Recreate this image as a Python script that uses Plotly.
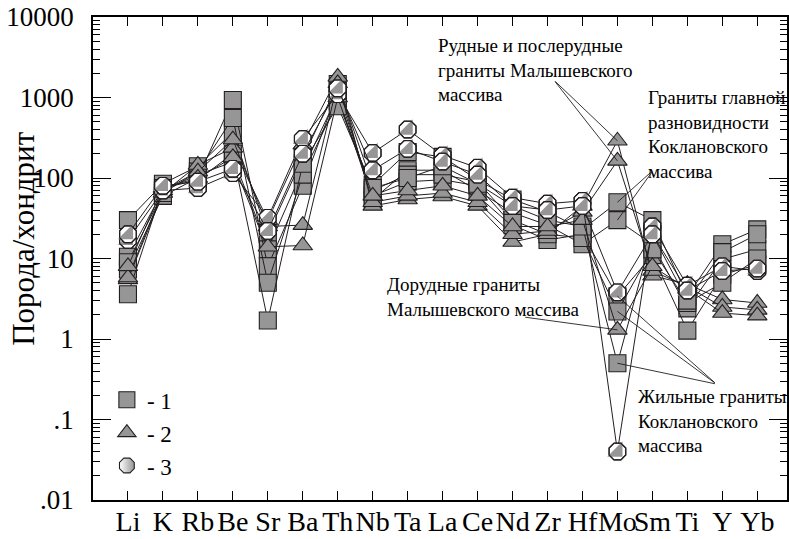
import plotly.graph_objects as go
import math

# ---------------- data ----------------
elements = ["Li", "K", "Rb", "Be", "Sr", "Ba", "Th", "Nb", "Ta", "La",
            "Ce", "Nd", "Zr", "Hf", "Mo", "Sm", "Ti", "Y", "Yb"]

# group 1 (squares)
sq_1 = [30, 85, 140, 370, 20, 178, 1470, 82, 210, 183, 95, 54, 38, 23, 50, 30, 3.4, 15, 23]
sq_2 = [10.5, 70, 110, 158, 13, 127, 1070, 54, 125, 125, 70, 37, 26, 15, 30, 15, 2.4, 9.8, 13]
sq_3 = [7.3, 60, 100, 930, 8, 80, 1200, 60, 90, 95, 80, 26, 17, 20, 3.4, 11, 1.27, 6.3, 8.4]
sq_4 = [9, 65, 120, 557, 5, 110, 900, 70, 110, 110, 90, 30, 20, 18, 2.2, 13, 2.8, 5, 10]
sq_5 = [3.6, 75, 95, 200, 1.7, 150, 780, 75, 100, 140, 85, 45, 30, 25, 0.5, 20, 3.0, 12, 20]

# group 2 (triangles)
tri_1 = [5.5, 65, 145, 237, 30, 260, 1800, 45, 54, 59, 45, 16, 20, 45, 290, 6.1, 4.8, 3.1, 2.8]
tri_2 = [5.8, 70, 120, 300, 25, 26, 1500, 50, 60, 65, 50, 20, 22, 38, 163, 7, 4.5, 2.5, 2.3]
tri_3 = [8, 75, 100, 180, 14, 14.5, 1000, 60, 70, 80, 60, 25, 25, 30, 1.3, 8, 4.2, 2.1, 1.95]

# group 3 (half-filled octagons)
oct_1 = [17, 70, 75, 115, 32, 306, 1100, 205, 400, 190, 134, 57, 48, 52, 0.04, 25, 4.6, 8, 7]
oct_2 = [20, 80, 90, 130, 22, 200, 1300, 125, 230, 160, 110, 45, 40, 45, 3.8, 20, 4.0, 7, 7.5]

y_tickvals = [0.01, 0.1, 1, 10, 100, 1000, 10000]
y_ticktext = [".01", ".1", "1", "10", "100", "1000", "10000"]
legend_labels = ["- 1", "- 2", "- 3"]

# ---------------- styling ----------------
FONT = "Liberation Serif"
GRAY = "#969696"
INK = "#231f20"
xs = list(range(len(elements)))
mo = elements.index("Mo")

fig = go.Figure()

def add_series(vals, symbol, size):
    fig.add_trace(go.Scatter(
        x=xs, y=vals, mode="lines+markers", showlegend=False,
        line=dict(color=INK, width=1),
        marker=dict(symbol=symbol, size=size, color=GRAY,
                    line=dict(color=INK, width=1.1)),
        hoverinfo="skip"))

def add_half_octagon(vals):
    fig.add_trace(go.Scatter(
        x=xs, y=vals, mode="lines+markers", showlegend=False,
        line=dict(color=INK, width=1),
        marker=dict(symbol="octagon", size=18, color="white",
                    line=dict(color=INK, width=1.1)),
        hoverinfo="skip"))
    fig.add_trace(go.Scatter(
        x=xs, y=vals, mode="markers", showlegend=False,
        marker=dict(symbol="triangle-se", size=17, color=GRAY,
                    line=dict(width=0)),
        hoverinfo="skip"))
    fig.add_trace(go.Scatter(
        x=xs, y=vals, mode="markers", showlegend=False,
        marker=dict(symbol="octagon-open", size=18, color=INK,
                    line=dict(color=INK, width=1.2)),
        hoverinfo="skip"))

for s in (sq_1, sq_2, sq_3, sq_4, sq_5):
    add_series(s, "square", 17)
for s in (tri_1, tri_2, tri_3):
    add_series(s, "triangle-up", 17)
for s in (oct_1, oct_2):
    add_half_octagon(s)

# legend-only entries
fig.add_trace(go.Scatter(x=[None], y=[None], mode="markers", name=legend_labels[0],
                         marker=dict(symbol="square", size=16, color=GRAY,
                                     line=dict(color=INK, width=1.1))))
fig.add_trace(go.Scatter(x=[None], y=[None], mode="markers", name=legend_labels[1],
                         marker=dict(symbol="triangle-up", size=16, color=GRAY,
                                     line=dict(color=INK, width=1.1))))
fig.add_trace(go.Scatter(x=[None], y=[None], mode="markers", name=legend_labels[2],
                         marker=dict(symbol="octagon", size=16, color="white",
                                     gradient=dict(type="horizontal", color=GRAY),
                                     line=dict(color=INK, width=1.1))))

# ---------------- annotations ----------------
L = math.log10
ann = []
def txt(x, y, text):
    ann.append(dict(x=x, y=y, xref="x", yref="y", text=text, showarrow=False,
                    xanchor="left", yanchor="top", align="left",
                    font=dict(family=FONT, size=19, color="black")))
def leader(series, ax, ay):
    ann.append(dict(x=mo, y=L(series[mo]), xref="x", yref="y",
                    ax=ax, ay=ay, axref="x", ayref="y", text="",
                    showarrow=True, arrowhead=0, arrowwidth=0.9,
                    arrowcolor=INK, standoff=0, startstandoff=0))

txt(8.81, 3.80, "Рудные и послерудные<br>граниты Малышевского<br>массива")
leader(tri_1, 12.18, 3.217)
leader(tri_2, 12.18, 3.217)

txt(14.83, 3.15, "Граниты главной<br>разновидности<br>Коклановского<br>массива")
leader(sq_1, 15.03, 2.10)
leader(sq_2, 15.03, 2.10)

txt(7.36, 0.83, "Дорудные граниты<br>Малышевского массива")
leader(tri_3, 11.32, 0.273)

txt(14.52, -0.56, "Жильные граниты<br>Коклановского<br>массива")
for s in (sq_3, sq_4, sq_5):
    leader(s, 16.83, -0.56)

ann.append(dict(x=-0.1, y=0.54, xref="paper", yref="paper",
                text="Порода/хондрит", textangle=-90, showarrow=False,
                xanchor="center", yanchor="middle",
                font=dict(family=FONT, size=31, color="black")))

minor_vals = [m * 10 ** e for e in range(-2, 4) for m in range(2, 10)]

fig.update_layout(
    width=789, height=539,
    margin=dict(l=93, r=0, t=17, b=39),
    paper_bgcolor="white", plot_bgcolor="white",
    font=dict(family=FONT, color="black"),
    annotations=ann,
    showlegend=True,
    legend=dict(x=0.02, y=0.252, xanchor="left", yanchor="top",
                bgcolor="rgba(0,0,0,0)", borderwidth=0,
                font=dict(family=FONT, size=23, color="black"),
                tracegroupgap=0,
                itemclick=False, itemdoubleclick=False),
    xaxis=dict(range=[-1.0, 18.85], tickvals=xs, ticktext=elements,
               tickangle=0,
               ticks="inside", ticklen=9, tickwidth=1, tickcolor="black",
               showline=True, linecolor="black", linewidth=1.5,
               mirror="ticks", showgrid=False, zeroline=False,
               tickfont=dict(family=FONT, size=28, color="black"),
               ticklabelstandoff=-4),
    yaxis=dict(type="log", range=[-2, 4], tickvals=y_tickvals, ticktext=y_ticktext,
               ticks="inside", ticklen=18, tickwidth=1, tickcolor="black",
               showline=True, linecolor="black", linewidth=1.5,
               mirror="ticks", showgrid=False, zeroline=False,
               tickfont=dict(family=FONT, size=27, color="black"),
               ticklabelstandoff=12,
               minor=dict(tickvals=minor_vals, ticks="inside", ticklen=7,
                          tickwidth=1, tickcolor="black", showgrid=False)),
)

fig.write_html("out.html")
